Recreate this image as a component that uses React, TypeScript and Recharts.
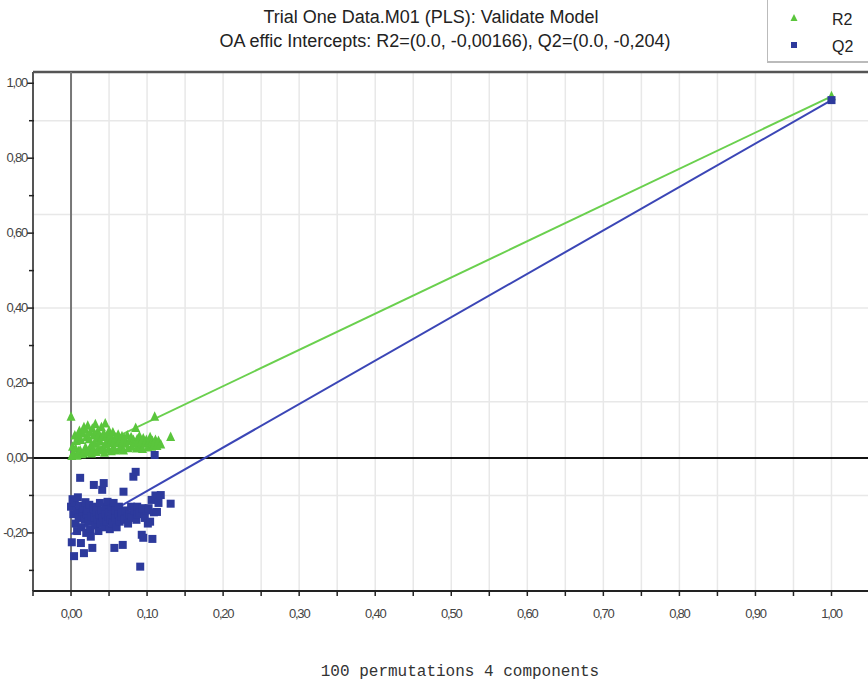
import React from 'react';
import { ScatterChart, Scatter, XAxis, YAxis, ReferenceLine } from 'recharts';

// Permutation results: correlation of permuted Y with original Y, and the R2 / Q2 of each refit
const permCorr = [
  0.000, 0.001, 0.002, 0.003, 0.004, 0.005, 0.006, 0.007, 0.008, 0.009,
  0.010, 0.011, 0.012, 0.013, 0.014, 0.015, 0.016, 0.017, 0.018, 0.019,
  0.020, 0.021, 0.022, 0.023, 0.024, 0.025, 0.026, 0.027, 0.028, 0.029,
  0.030, 0.031, 0.032, 0.033, 0.034, 0.035, 0.036, 0.037, 0.038, 0.039,
  0.040, 0.041, 0.042, 0.043, 0.044, 0.045, 0.046, 0.047, 0.048, 0.049,
  0.050, 0.051, 0.052, 0.053, 0.054, 0.055, 0.056, 0.057, 0.058, 0.059,
  0.060, 0.062, 0.063, 0.064, 0.066, 0.067, 0.068, 0.069, 0.070, 0.072,
  0.074, 0.075, 0.077, 0.079, 0.080, 0.082, 0.083, 0.085, 0.086, 0.087,
  0.088, 0.090, 0.091, 0.093, 0.094, 0.095, 0.097, 0.099, 0.101, 0.102,
  0.104, 0.106, 0.107, 0.109, 0.110, 0.111, 0.113, 0.115, 0.118, 0.131,
];

const permR2 = [
  0.110, 0.005, 0.030, 0.012, 0.008, 0.060, 0.025, 0.045, 0.006, 0.055,
  0.018, 0.072, 0.020, 0.048, 0.010, 0.065, 0.012, 0.082, 0.075, 0.028,
  0.055, 0.015, 0.086, 0.018, 0.050, 0.068, 0.032, 0.012, 0.078, 0.022,
  0.060, 0.040, 0.090, 0.016, 0.052, 0.070, 0.025, 0.062, 0.045, 0.020,
  0.082, 0.055, 0.028, 0.065, 0.014, 0.092, 0.035, 0.058, 0.048, 0.022,
  0.072, 0.040, 0.060, 0.018, 0.050, 0.068, 0.028, 0.045, 0.020, 0.055,
  0.040, 0.062, 0.022, 0.048, 0.030, 0.058, 0.042, 0.020, 0.052, 0.038,
  0.060, 0.026, 0.045, 0.055, 0.030, 0.048, 0.040, 0.080, 0.025, 0.050,
  0.042, 0.058, 0.030, 0.045, 0.024, 0.052, 0.038, 0.048, 0.028, 0.042,
  0.055, 0.030, 0.045, 0.036, 0.110, 0.048, 0.032, 0.045, 0.036, 0.056,
];

const permQ2 = [
  -0.130, -0.225, -0.110, -0.150, -0.262, -0.120, -0.175, -0.140, -0.195, -0.105,
  -0.160, -0.128, -0.053, -0.227, -0.185, -0.145, -0.135, -0.254, -0.165, -0.118,
  -0.200, -0.150, -0.140, -0.170, -0.125, -0.190, -0.210, -0.155, -0.240, -0.135,
  -0.072, -0.160, -0.180, -0.145, -0.130, -0.165, -0.195, -0.150, -0.120, -0.175,
  -0.140, -0.085, -0.160, -0.067, -0.185, -0.150, -0.130, -0.170, -0.117, -0.155,
  -0.145, -0.190, -0.165, -0.135, -0.150, -0.175, -0.120, -0.240, -0.160, -0.140,
  -0.185, -0.150, -0.130, -0.170, -0.155, -0.145, -0.232, -0.090, -0.165, -0.140,
  -0.155, -0.175, -0.150, -0.130, -0.160, -0.050, -0.140, -0.037, -0.165, -0.130,
  -0.150, -0.145, -0.290, -0.205, -0.134, -0.213, -0.160, -0.140, -0.175, -0.134,
  -0.170, -0.112, -0.216, -0.145, 0.008, -0.100, -0.144, -0.120, -0.099, -0.122,
];

// Original (unpermuted) model and regression-line intercepts
const originalCorr = 1.0;
const originalR2 = 0.965;
const originalQ2 = 0.955;
const r2Intercept = -0.00166;
const q2Intercept = -0.204;

const xDomain: [number, number] = [-0.05, 1.048];
const yDomain: [number, number] = [-0.355, 1.03];

const xTicks = [
  -0.05, 0.0, 0.05, 0.1, 0.15, 0.2, 0.25, 0.3, 0.35, 0.4, 0.45, 0.5,
  0.55, 0.6, 0.65, 0.7, 0.75, 0.8, 0.85, 0.9, 0.95, 1.0,
];
const yTicks = [-0.3, -0.2, -0.1, 0.0, 0.1, 0.2, 0.3, 0.4, 0.5, 0.6, 0.7, 0.8, 0.9, 1.0];
const xGrid = [
  0.05, 0.1, 0.15, 0.2, 0.25, 0.3, 0.35, 0.4, 0.45, 0.5, 0.55, 0.6, 0.65,
  0.7, 0.75, 0.8, 0.85, 0.9, 0.95, 1.0,
];
const yGrid = [-0.1, 0.15, 0.4, 0.65, 0.9];

const GREEN = '#5ac53c';
const GREEN_LINE = '#6ad04e';
const BLUE = '#2d3a9c';
const BLUE_LINE = '#3b46b6';

const r2Data = permCorr.map((c, i) => ({ x: c, y: permR2[i] }));
const q2Data = permCorr.map((c, i) => ({ x: c, y: permQ2[i] }));
const r2Orig = [{ x: originalCorr, y: originalR2 }];
const q2Orig = [{ x: originalCorr, y: originalQ2 }];
const r2Fit = [{ x: 0, y: r2Intercept }, { x: originalCorr, y: originalR2 }];
const q2Fit = [{ x: 0, y: q2Intercept }, { x: originalCorr, y: originalQ2 }];

const fmt = (v: number) => v.toFixed(2).replace('.', ',').replace('-0,00', '0,00');
const isMajor = (v: number, step: number) => Math.abs(Math.round(v * 100) % step) === 0;

const tickFont = {
  fontFamily: '"Liberation Sans", Arial, sans-serif',
  fontSize: 13,
  letterSpacing: -1.2,
  fill: '#444',
};

const XTick = (props: any) => {
  const { x, y, payload } = props;
  const v = payload.value as number;
  return (
    <g>
      <line x1={x} x2={x} y1={y - 3} y2={y + 3} stroke="#222" strokeWidth={1.5} />
      {isMajor(v, 10) && v >= 0 ? (
        <text x={x} y={y + 25} textAnchor="middle" style={tickFont}>
          {fmt(v)}
        </text>
      ) : null}
    </g>
  );
};

const YTick = (props: any) => {
  const { x, y, payload } = props;
  const v = payload.value as number;
  const major = isMajor(v, 20);
  return (
    <g>
      <line x1={x - (major ? 4 : 2)} x2={x + 3} y1={y} y2={y} stroke="#222" strokeWidth={1.5} />
      {major ? (
        <text x={x - 4} y={y + 4} textAnchor="end" style={tickFont}>
          {fmt(v)}
        </text>
      ) : null}
    </g>
  );
};

const Triangle = (props: any) => {
  const { cx, cy } = props;
  if (cx == null || cy == null) return <g />;
  return (
    <polygon
      points={`${cx},${cy - 5.5} ${cx - 4.5},${cy + 4} ${cx + 4.5},${cy + 4}`}
      fill={GREEN}
    />
  );
};

const Square = (props: any) => {
  const { cx, cy } = props;
  if (cx == null || cy == null) return <g />;
  return <rect x={cx - 4} y={cy - 4} width={8} height={8} fill={BLUE} />;
};

const NoDot = () => <g />;

const titleLine = {
  position: 'absolute' as const,
  width: 600,
  textAlign: 'center' as const,
  fontSize: 18,
  lineHeight: '24px',
  color: '#222',
  whiteSpace: 'nowrap' as const,
};

export default function App() {
  return (
    <div
      style={{
        position: 'absolute',
        left: 0,
        top: 0,
        width: 868,
        height: 684,
        background: '#fff',
        overflow: 'hidden',
        fontFamily: '"Liberation Sans", Arial, sans-serif',
      }}
    >
      <div style={{ ...titleLine, left: 131, top: 5 }}>Trial One Data.M01 (PLS): Validate Model</div>
      <div style={{ ...titleLine, left: 145, top: 29 }}>
        OA effic Intercepts: R2=(0.0, -0,00166), Q2=(0.0, -0,204)
      </div>

      <div
        style={{
          position: 'absolute',
          left: 767,
          top: -2,
          width: 110,
          height: 63,
          borderLeft: '1px solid #bbb',
          borderBottom: '2px solid #bbb',
          background: '#fff',
        }}
      >
        <svg width={110} height={63} style={{ position: 'absolute', left: 0, top: 0 }}>
          <polygon points="26,16 22.5,23 29.5,23" fill={GREEN} />
          <rect x={23} y={44} width={6} height={6} fill={BLUE} />
          <text x={64} y={27} fontSize={16} fill="#222" fontFamily='"Liberation Sans", Arial, sans-serif'>R2</text>
          <text x={64} y={54} fontSize={16} fill="#222" fontFamily='"Liberation Sans", Arial, sans-serif'>Q2</text>
        </svg>
      </div>

      <div style={{ position: 'absolute', left: 0, top: 0 }}>
        <ScatterChart width={868} height={684} margin={{ top: 72, right: 0, bottom: 0, left: 0 }}>
          <XAxis
            type="number"
            dataKey="x"
            domain={xDomain}
            ticks={xTicks}
            allowDataOverflow
            height={93}
            tickSize={0}
            tickLine={false}
            tick={<XTick />}
            axisLine={{ stroke: '#222', strokeWidth: 2 }}
            interval={0}
          />
          <YAxis
            type="number"
            dataKey="y"
            domain={yDomain}
            ticks={yTicks}
            allowDataOverflow
            width={33}
            tickSize={0}
            tickLine={false}
            tick={<YTick />}
            axisLine={{ stroke: '#555', strokeWidth: 2 }}
            interval={0}
          />
          {xGrid.map((v) => (
            <ReferenceLine key={`gx${v}`} x={v} stroke="#e8e8e8" strokeWidth={1.5} />
          ))}
          {yGrid.map((v) => (
            <ReferenceLine key={`gy${v}`} y={v} stroke="#e8e8e8" strokeWidth={1.5} />
          ))}
          <ReferenceLine y={yDomain[1]} stroke="#555" strokeWidth={2.5} />
          <ReferenceLine x={0} stroke="#777" strokeWidth={2} />
          <ReferenceLine y={0} stroke="#111" strokeWidth={2} />

          <Scatter data={r2Fit} shape={<NoDot />} line={{ stroke: GREEN_LINE, strokeWidth: 2 }} isAnimationActive={false} />
          <Scatter data={q2Fit} shape={<NoDot />} line={{ stroke: BLUE_LINE, strokeWidth: 2 }} isAnimationActive={false} />
          <Scatter name="R2" data={r2Data} shape={<Triangle />} isAnimationActive={false} />
          <Scatter name="Q2" data={q2Data} shape={<Square />} isAnimationActive={false} />
          <Scatter data={r2Orig} shape={<Triangle />} isAnimationActive={false} />
          <Scatter data={q2Orig} shape={<Square />} isAnimationActive={false} />
        </ScatterChart>
      </div>

      <div
        style={{
          position: 'absolute',
          left: 0,
          top: 662,
          width: 920,
          textAlign: 'center',
          fontFamily: '"Liberation Mono", "Courier New", monospace',
          fontSize: 16,
          lineHeight: '20px',
          color: '#333',
        }}
      >
        100 permutations 4 components
      </div>
    </div>
  );
}
